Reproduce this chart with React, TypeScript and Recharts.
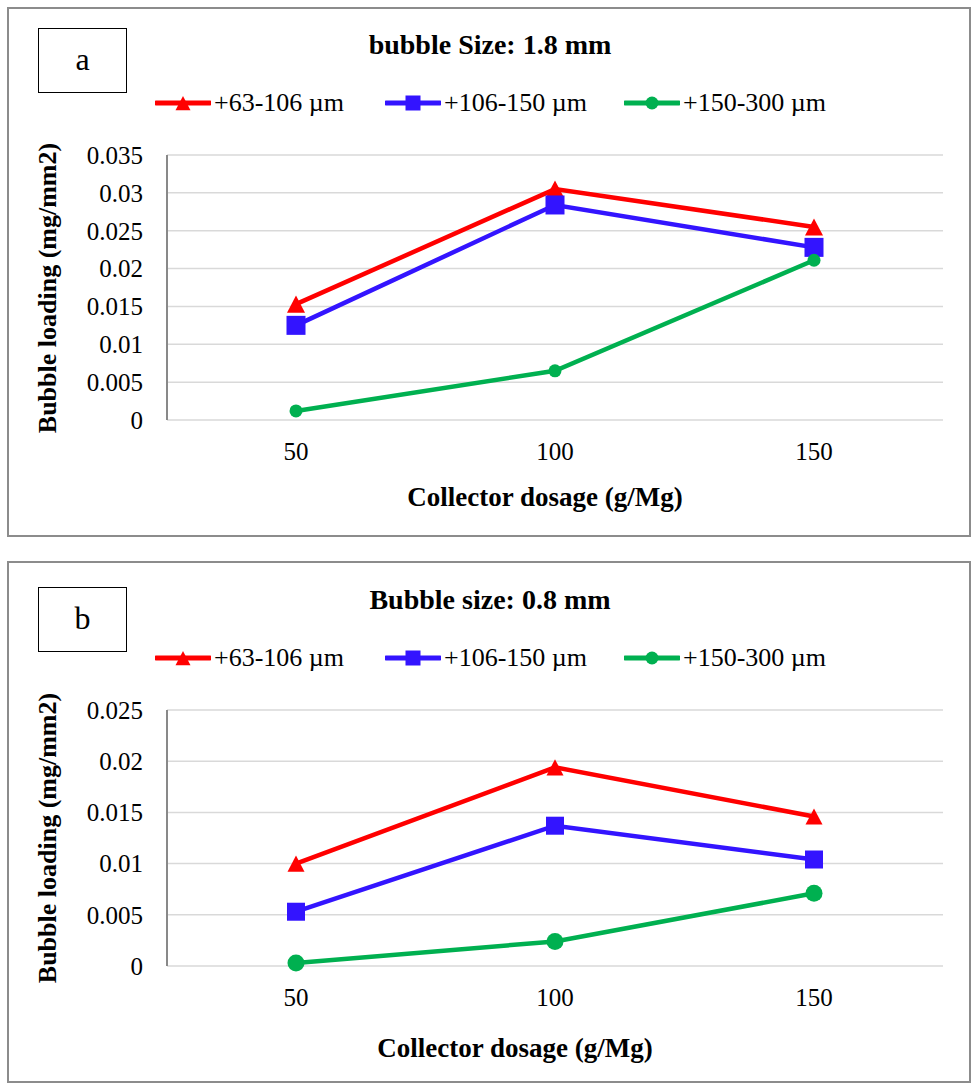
import React from 'react'
import { CartesianGrid, Line, LineChart, XAxis, YAxis } from 'recharts'

// collector dosage, g/Mg
const dosages = ['50', '100', '150']
const seriesNames = ['+63-106 µm', '+106-150 µm', '+150-300 µm']

// panel a - bubble size 1.8 mm, bubble loading mg/mm2
const aFine = [0.0153, 0.0305, 0.0255]
const aMid = [0.0125, 0.0284, 0.0228]
const aCoarse = [0.0012, 0.0065, 0.0211]
const aTicks = [0, 0.005, 0.01, 0.015, 0.02, 0.025, 0.03, 0.035]

// panel b - bubble size 0.8 mm
const bFine = [0.01, 0.0194, 0.0146]
const bMid = [0.0053, 0.0137, 0.0104]
const bCoarse = [0.0003, 0.0024, 0.0071]
const bTicks = [0, 0.005, 0.01, 0.015, 0.02, 0.025]

const COLORS = ['#FF0000', '#3314FF', '#00B050']
const SHAPES = ['triangle', 'square', 'circle']
const FONT = '"Liberation Serif", "Times New Roman", serif'
const LEGEND_X = [155, 385, 624]

const toRows = (series: number[][]) =>
  dosages.map((d, i) => ({ dosage: d, s0: series[0][i], s1: series[1][i], s2: series[2][i] }))

const Marker = ({ shape, cx, cy, size, color }: any) => {
  if (cx == null || cy == null) return null
  if (shape === 'triangle') {
    const h = size * 0.95
    return (
      <polygon
        points={`${cx},${cy - h / 2} ${cx - size / 2},${cy + h / 2} ${cx + size / 2},${cy + h / 2}`}
        fill={color}
      />
    )
  }
  if (shape === 'square') {
    return <rect x={cx - size / 2} y={cy - size / 2} width={size} height={size} fill={color} />
  }
  return <circle cx={cx} cy={cy} r={size / 2} fill={color} />
}

type PanelProps = {
  top: number
  height: number
  letter: string
  boxTop: number
  title: string
  titleY: number
  legendY: number
  series: number[][]
  ticks: number[]
  plotTop: number
  plotBottom: number
  xLabelX: number
  xLabelY: number
  markerSizes: number[]
}

const Panel: React.FC<PanelProps> = (p) => {
  const ox = 9
  const oy = p.top + 2
  const innerW = 960
  const innerH = p.height - 4
  const data = toRows(p.series)
  const yCenter = (p.plotTop + p.plotBottom) / 2
  const plotW = 943 - 167
  const pad = Math.round(plotW / 6)

  return (
    <div
      style={{
        position: 'absolute',
        left: 7,
        top: p.top,
        width: 964,
        height: p.height,
        border: '2px solid #8c8c8c',
        boxSizing: 'border-box',
        background: '#fff',
        fontFamily: FONT,
        color: '#000',
      }}
    >
      <div
        style={{
          position: 'absolute',
          left: 38 - ox,
          top: p.boxTop - oy,
          width: 89,
          height: 65,
          border: '1.5px solid #000',
          boxSizing: 'border-box',
          textAlign: 'center',
          lineHeight: '60px',
          fontSize: 32,
        }}
      >
        {p.letter}
      </div>

      <div
        style={{
          position: 'absolute',
          left: 490 - ox - 300,
          width: 600,
          top: p.titleY - oy - 17,
          height: 34,
          lineHeight: '34px',
          textAlign: 'center',
          fontWeight: 'bold',
          fontSize: 28,
        }}
      >
        {p.title}
      </div>

      {seriesNames.map((name, i) => (
        <div
          key={name}
          style={{
            position: 'absolute',
            left: LEGEND_X[i] - ox,
            top: p.legendY - oy - 16,
            height: 32,
            display: 'flex',
            alignItems: 'center',
            whiteSpace: 'nowrap',
            fontSize: 26,
          }}
        >
          <svg width={56} height={24} style={{ display: 'block' }}>
            <line x1={1} y1={12} x2={55} y2={12} stroke={COLORS[i]} strokeWidth={5} strokeLinecap="round" />
            <Marker shape={SHAPES[i]} cx={28} cy={12} size={i === 2 ? 13 : 15} color={COLORS[i]} />
          </svg>
          <span style={{ marginLeft: 3, lineHeight: '32px' }}>{name}</span>
        </div>
      ))}

      <div
        style={{
          position: 'absolute',
          left: 48 - ox - 200,
          width: 400,
          top: yCenter - oy - 16,
          height: 32,
          lineHeight: '32px',
          textAlign: 'center',
          fontWeight: 'bold',
          fontSize: 26,
          transform: 'rotate(-90deg)',
        }}
      >
        Bubble loading (mg/mm2)
      </div>

      <div
        style={{
          position: 'absolute',
          left: p.xLabelX - ox - 250,
          width: 500,
          top: p.xLabelY - oy - 17,
          height: 34,
          lineHeight: '34px',
          textAlign: 'center',
          fontWeight: 'bold',
          fontSize: 27,
        }}
      >
        Collector dosage (g/Mg)
      </div>

      <div style={{ position: 'absolute', left: 0, top: 0 }}>
        <LineChart
          width={innerW}
          height={innerH}
          data={data}
          style={{ fontFamily: FONT }}
          margin={{
            top: p.plotTop - oy,
            right: innerW - (943 - ox),
            left: 167 - ox - 60,
            bottom: innerH - (p.plotBottom - oy) - 40,
          }}
        >
          <CartesianGrid vertical={false} stroke="#d9d9d9" strokeWidth={1.5} />
          <XAxis
            dataKey="dosage"
            height={40}
            padding={{ left: pad, right: pad }}
            axisLine={false}
            tickLine={false}
            tickSize={0}
            tickMargin={22}
            tick={{ fill: '#000', fontSize: 25, fontFamily: FONT }}
          />
          <YAxis
            width={60}
            domain={[p.ticks[0], p.ticks[p.ticks.length - 1]]}
            ticks={p.ticks}
            interval={0}
            tickFormatter={(v: number) => String(v)}
            axisLine={{ stroke: '#898989', strokeWidth: 2 }}
            tickLine={false}
            tickSize={0}
            tickMargin={24}
            tick={{ fill: '#000', fontSize: 25, fontFamily: FONT }}
          />
          {[0, 1, 2].map((i) => (
            <Line
              key={i}
              type="linear"
              dataKey={`s${i}`}
              name={seriesNames[i]}
              stroke={COLORS[i]}
              strokeWidth={4.5}
              isAnimationActive={false}
              dot={(d: any) => (
                <Marker
                  key={`m${i}-${d.index}`}
                  shape={SHAPES[i]}
                  cx={d.cx}
                  cy={d.cy}
                  size={p.markerSizes[i]}
                  color={COLORS[i]}
                />
              )}
              activeDot={false}
            />
          ))}
        </LineChart>
      </div>
    </div>
  )
}

export default function App() {
  return (
    <div style={{ position: 'absolute', left: 0, top: 0, width: 974, height: 1084, background: '#fff' }}>
      <Panel
        top={7}
        height={530}
        letter="a"
        boxTop={28}
        title="bubble Size: 1.8 mm"
        titleY={45}
        legendY={103}
        series={[aFine, aMid, aCoarse]}
        ticks={aTicks}
        plotTop={155}
        plotBottom={420}
        xLabelX={545}
        xLabelY={497}
        markerSizes={[18, 19, 13]}
      />
      <Panel
        top={561}
        height={522}
        letter="b"
        boxTop={587}
        title="Bubble size: 0.8 mm"
        titleY={600}
        legendY={658}
        series={[bFine, bMid, bCoarse]}
        ticks={bTicks}
        plotTop={710}
        plotBottom={966}
        xLabelX={515}
        xLabelY={1048}
        markerSizes={[17, 18, 17]}
      />
    </div>
  )
}
